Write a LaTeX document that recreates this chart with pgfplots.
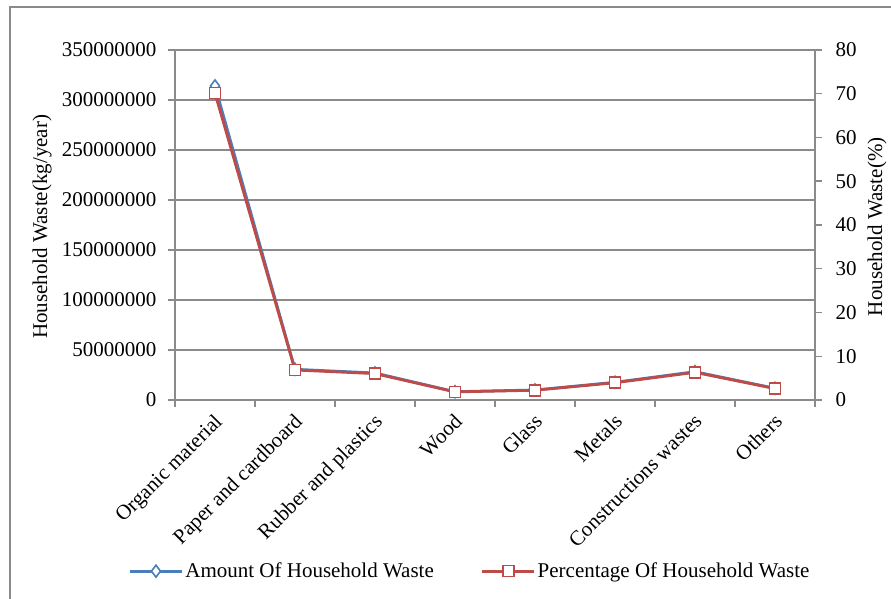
\documentclass[border=0pt]{standalone}
\usepackage{pgfplots}
\pgfplotsset{compat=1.18}
\usepackage{fontspec}
\setmainfont{Liberation Serif}

\definecolor{amountblue}{HTML}{4A7EBB}
\definecolor{pctred}{HTML}{BE4B48}
\definecolor{gridgray}{HTML}{8A8A8A}

\begin{document}
\begin{tikzpicture}[font=\fontsize{21}{25}\selectfont]
% page: plot area origin at (0,0); page spans 891pt x 599pt
\useasboundingbox (-175pt,-199pt) rectangle (716pt,400pt);
% chart frame
\draw[gridgray, line width=1.2pt] (-165pt,393pt) rectangle (730pt,-220pt);

\pgfplotsset{
  base/.style={
    scale only axis, width=640pt, height=350pt,
    at={(0pt,0pt)}, anchor=south west,
    xmin=0.5, xmax=8.5,
    /pgf/number format/assume math mode=true,
    axis line style={gridgray, line width=1.5pt},
    tick style={gridgray, line width=1.5pt},
    major tick length=7pt, tick align=outside,
    ticklabel style={font=\fontsize{21}{25}\selectfont},
    label style={font=\fontsize{21}{25}\selectfont},
    scaled y ticks=false,
  },
  amount/.style={amountblue, line width=2.8pt, mark=diamond*, mark size=6pt,
    mark options={fill=white, draw=amountblue, line width=1.6pt}},
  pct/.style={pctred, line width=2.8pt, mark=square*, mark size=5.5pt,
    mark options={fill=white, draw=pctred, line width=1.6pt}},
}

\begin{axis}[base,
  ymin=0, ymax=350000000,
  ytick={0,50000000,100000000,150000000,200000000,250000000,300000000,350000000},
  yticklabels={0,50000000,100000000,150000000,200000000,250000000,300000000,350000000},
  ytick pos=left, xtick pos=bottom,
  ymajorgrids, grid style={gridgray, line width=1.5pt},
  x tick label as interval,
  xtick={0.5,1.5,2.5,3.5,4.5,5.5,6.5,7.5,8.5},
  xticklabels={Organic material, Paper and cardboard, Rubber and plastics, Wood, Glass, Metals, Constructions wastes, Others},
  xticklabel style={yshift=-4pt, xshift=-2pt, rotate=45, anchor=north east, inner sep=1pt},
  yticklabel style={xshift=-8pt},
  ylabel={Household Waste(kg/year)},
  ylabel style={at={([xshift=-133pt]rel axis cs:0,0.495)}, anchor=center},
]
\addplot[amount] coordinates {
  (1,314000000) (2,30700000) (3,27000000) (4,8300000)
  (5,10000000) (6,17700000) (7,28300000) (8,11700000)
};
\end{axis}

\begin{axis}[base,
  ymin=0, ymax=80, ytick={0,10,...,80},
  axis x line=none, axis y line*=right,
  yticklabel style={xshift=10pt},
  ylabel={Household Waste(\%)},
  ylabel style={at={([xshift=62pt]rel axis cs:1,0.495)}, anchor=center},
  legend style={at={(0.461,-0.489)}, anchor=center, draw=none, fill=none,
    legend columns=2, font=\fontsize{21}{25}\selectfont,
    /tikz/every even column/.append style={column sep=45pt}},
  legend image code/.code={
    \draw[mark repeat=2, mark phase=2] plot coordinates {(0pt,0pt) (26pt,0pt) (52pt,0pt)};},
]
\addlegendimage{amount}
\addlegendentry{Amount Of Household Waste}
\addplot[pct] coordinates {
  (1,70.14) (2,6.86) (3,6.03) (4,1.85)
  (5,2.23) (6,3.95) (7,6.32) (8,2.61)
};
\addlegendentry{Percentage Of Household Waste}
\end{axis}
\end{tikzpicture}
\end{document}
